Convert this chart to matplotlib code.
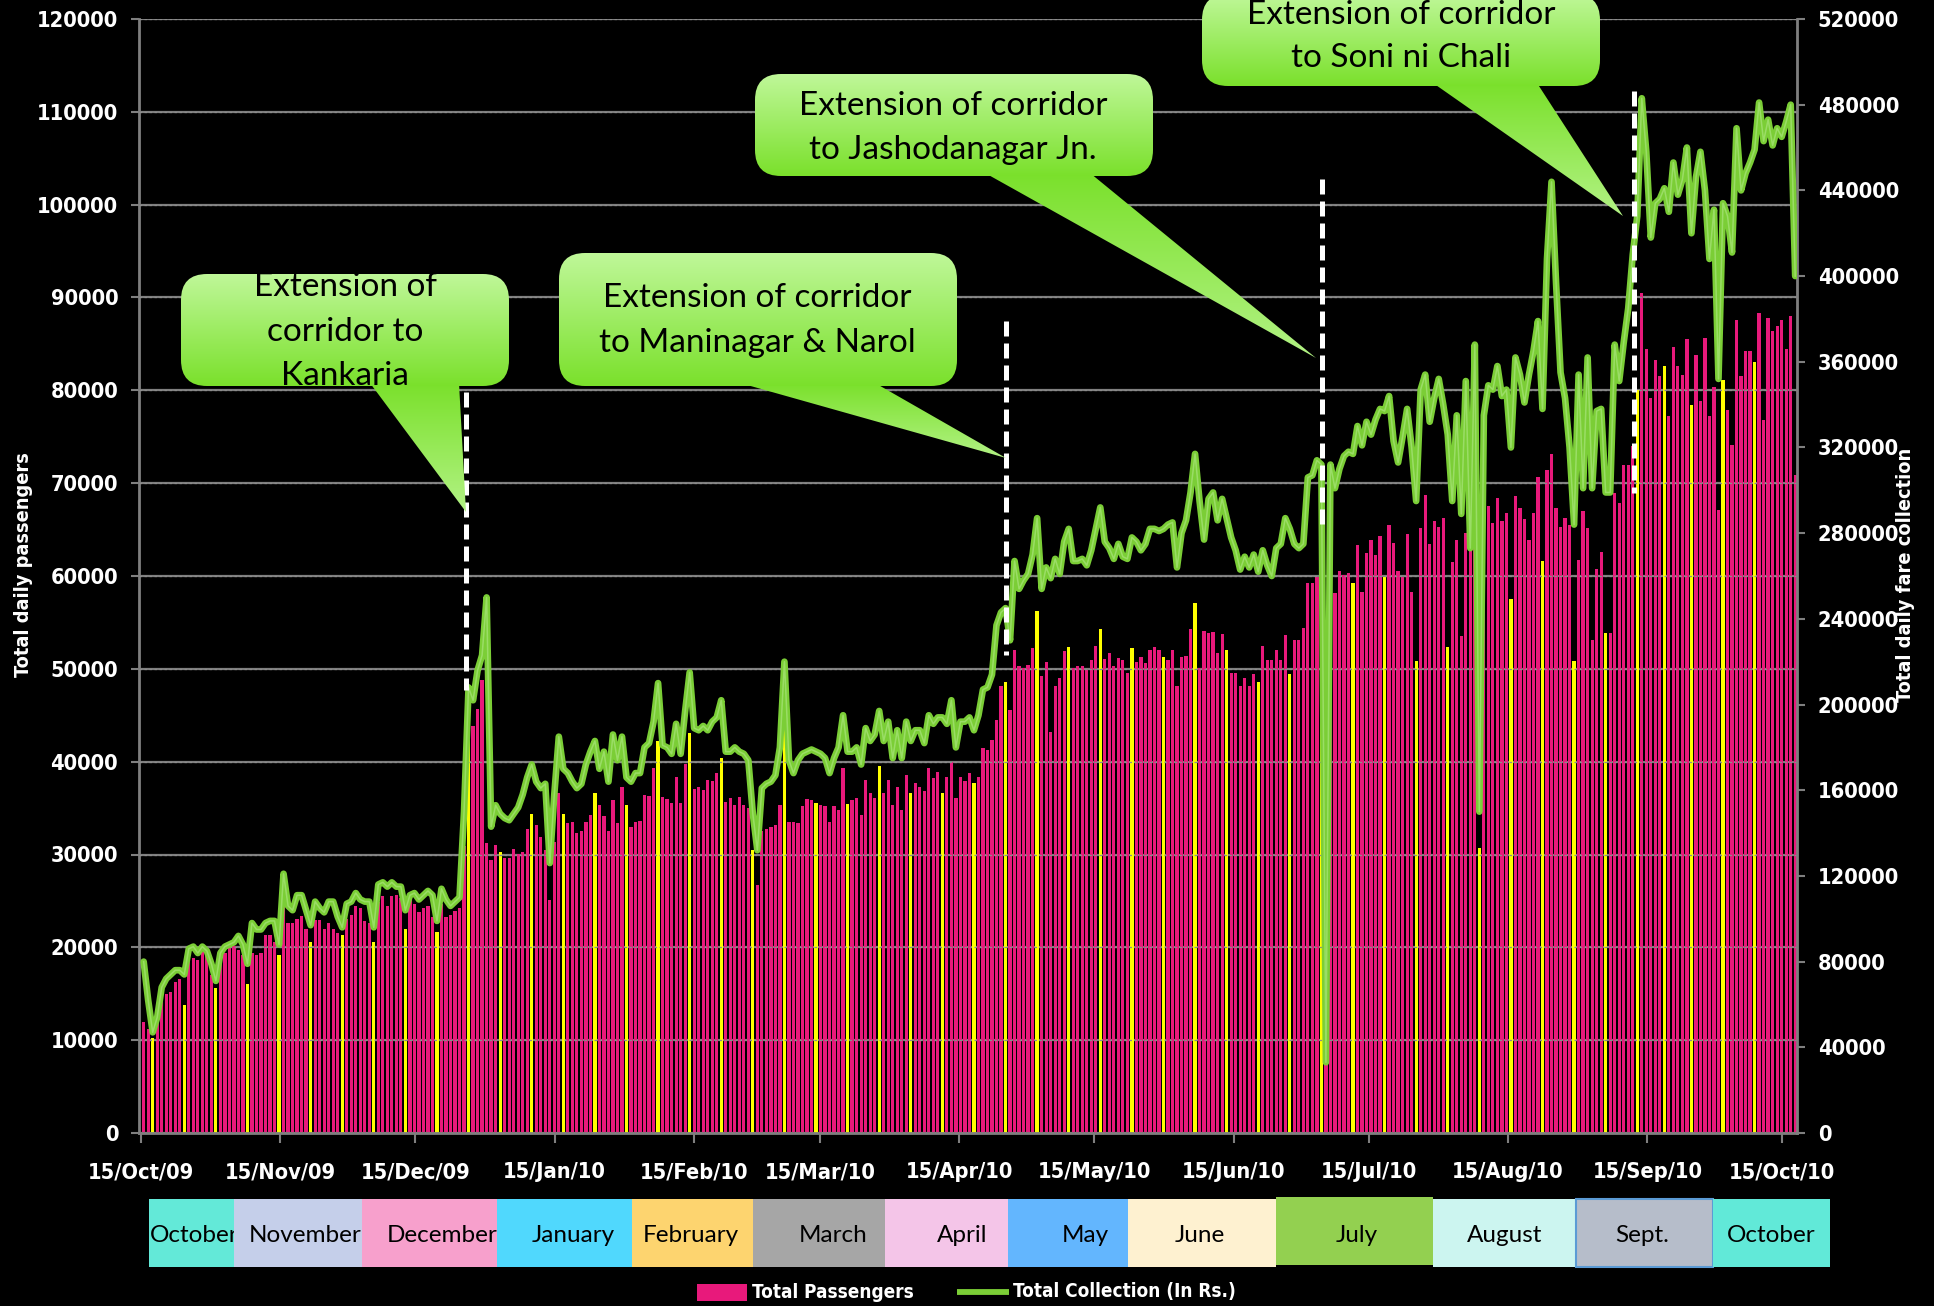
import numpy as np
import matplotlib
matplotlib.use('Agg')
import matplotlib.pyplot as plt
from matplotlib import font_manager
from matplotlib.font_manager import FontProperties
from matplotlib.patches import FancyBboxPatch, Polygon, Rectangle
from matplotlib.ticker import FuncFormatter

# daily ridership on the BRTS corridor, one value per day from 15 Oct 2009 (thousands)
passengers_k = [
    12.0, 11.2, 10.2, 13.0, 14.5, 15.0, 15.2,
    16.3, 16.6, 13.8, 19.0, 18.8, 18.6, 19.5,
    19.2, 17.0, 15.6, 18.8, 19.4, 19.9, 20.1,
    19.7, 19.2, 16.1, 19.4, 19.2, 19.4, 21.3,
    21.3, 20.6, 19.2, 24.4, 22.6, 22.6, 23.1,
    23.4, 22.0, 20.6, 22.9, 22.9, 22.0, 22.6,
    22.0, 21.5, 21.3, 23.1, 23.5, 24.5, 24.2,
    22.8, 22.6, 20.6, 24.9, 25.5, 24.4, 25.5,
    25.6, 25.3, 22.0, 25.5, 24.7, 23.8, 24.2,
    24.4, 23.3, 21.7, 24.7, 23.3, 23.5, 23.9,
    24.2, 30.9, 45.0, 43.8, 45.7, 48.8, 31.2,
    29.4, 31.0, 30.3, 29.6, 29.6, 30.6, 30.1,
    30.3, 32.7, 34.4, 33.2, 31.9, 30.5, 25.1,
    31.4, 36.6, 34.4, 33.4, 33.5, 32.3, 32.5,
    33.5, 34.3, 36.6, 35.3, 34.1, 32.5, 35.9,
    33.4, 37.3, 35.3, 33.0, 33.5, 33.6, 36.4,
    36.3, 39.3, 42.2, 36.2, 36.0, 35.6, 38.3,
    35.6, 39.8, 43.1, 37.1, 37.3, 37.0, 38.0,
    37.9, 38.8, 40.4, 35.7, 36.1, 35.3, 36.2,
    35.3, 35.0, 30.5, 26.7, 32.5, 32.7, 33.0,
    33.2, 35.3, 44.0, 33.5, 33.5, 33.4, 35.2,
    36.0, 35.9, 35.5, 35.3, 35.2, 33.5, 35.2,
    34.8, 39.3, 35.4, 35.9, 36.1, 34.3, 38.0,
    36.6, 36.1, 39.5, 36.6, 38.0, 35.3, 37.3,
    34.8, 38.6, 36.6, 37.7, 37.3, 36.8, 39.3,
    38.2, 38.9, 36.6, 38.4, 40.0, 36.1, 38.3,
    37.9, 38.8, 37.7, 38.4, 41.5, 41.3, 42.3,
    44.5, 48.1, 48.6, 45.6, 52.0, 50.3, 50.1,
    50.4, 52.2, 56.2, 49.2, 50.7, 43.2, 48.1,
    49.0, 51.9, 52.3, 50.1, 50.3, 50.3, 49.9,
    51.0, 52.5, 54.3, 51.1, 51.7, 50.3, 51.2,
    51.0, 49.6, 52.2, 50.7, 51.3, 50.6, 52.0,
    52.4, 52.0, 51.3, 51.0, 52.0, 48.1, 51.3,
    51.4, 54.3, 57.1, 50.1, 54.1, 53.9, 54.0,
    51.7, 53.8, 52.0, 49.5, 49.6, 48.2, 49.0,
    48.1, 49.4, 48.6, 52.5, 50.9, 50.9, 52.0,
    51.0, 53.6, 49.4, 53.1, 53.1, 54.4, 59.2,
    59.2, 59.9, 56.0, 8.5, 60.3, 58.2, 60.5,
    60.1, 60.3, 59.2, 63.3, 58.3, 62.5, 63.9,
    62.3, 64.3, 59.9, 65.5, 63.6, 60.5, 59.9,
    64.5, 58.3, 50.8, 65.2, 68.7, 63.4, 65.9,
    65.3, 66.2, 52.3, 61.5, 63.9, 53.5, 64.6,
    68.2, 66.6, 30.7, 65.0, 67.5, 65.7, 68.4,
    65.9, 66.8, 57.5, 68.6, 67.3, 66.1, 63.9,
    66.8, 70.7, 61.6, 71.4, 73.1, 67.3, 65.3,
    66.2, 65.5, 50.8, 61.7, 67.0, 65.2, 53.1,
    60.8, 62.6, 53.9, 53.9, 68.9, 67.9, 72.0,
    72.0, 74.0, 80.0, 90.5, 84.4, 79.2, 83.3,
    81.5, 82.6, 77.2, 84.7, 82.6, 81.7, 85.5,
    78.4, 83.8, 78.8, 85.6, 77.2, 80.4, 67.1,
    81.1, 77.9, 74.1, 87.6, 81.5, 84.2, 84.2,
    83.1, 88.3, 76.8, 87.8, 86.4, 86.9, 87.6,
    84.4, 88.0, 70.9,
]

# daily fare collection in Rs. (thousands), same days
collection_k = [
    80, 62, 47, 54, 68, 72, 74,
    76, 76, 74, 86, 87, 84, 87,
    85, 79, 71, 84, 87, 88, 89,
    92, 88, 79, 98, 95, 95, 98,
    99, 99, 88, 121, 106, 104, 111,
    111, 104, 97, 108, 105, 103, 108,
    108, 101, 96, 107, 108, 112, 109,
    108, 108, 96, 116, 117, 115, 117,
    115, 115, 104, 111, 112, 109, 111,
    113, 111, 99, 114, 109, 106, 108,
    110, 150, 208, 202, 216, 223, 250,
    143, 153, 149, 147, 146, 149, 152,
    158, 166, 172, 164, 161, 163, 126,
    158, 185, 170, 168, 164, 161, 163,
    172, 178, 183, 170, 178, 164, 186,
    174, 185, 166, 164, 168, 168, 180,
    182, 192, 210, 181, 180, 177, 191,
    177, 197, 215, 189, 188, 190, 188,
    192, 194, 202, 178, 178, 180, 178,
    177, 174, 149, 132, 161, 163, 164,
    167, 180, 220, 174, 168, 174, 177,
    178, 179, 178, 177, 175, 168, 175,
    180, 195, 178, 178, 180, 172, 189,
    183, 186, 197, 183, 192, 175, 188,
    175, 192, 183, 188, 188, 182, 195,
    191, 194, 194, 191, 202, 180, 192,
    192, 194, 188, 195, 207, 208, 214,
    237, 243, 245, 230, 267, 254, 258,
    261, 270, 287, 254, 264, 259, 268,
    261, 276, 282, 267, 267, 268, 265,
    272, 282, 292, 276, 273, 268, 275,
    269, 268, 278, 276, 272, 275, 282,
    282, 281, 282, 284, 285, 264, 280,
    286, 299, 317, 295, 277, 296, 299,
    286, 296, 287, 278, 272, 263, 269,
    264, 270, 262, 272, 265, 260, 273,
    275, 287, 282, 275, 273, 275, 306,
    307, 314, 312, 33, 312, 301, 310,
    316, 318, 317, 330, 321, 332, 326,
    333, 338, 337, 344, 323, 313, 325,
    338, 320, 295, 347, 354, 332, 343,
    352, 340, 326, 295, 335, 289, 351,
    273, 368, 150, 335, 349, 347, 358,
    344, 347, 320, 362, 354, 341, 354,
    365, 379, 338, 408, 444, 397, 355,
    343, 320, 284, 354, 301, 362, 301,
    337, 338, 299, 299, 368, 351, 369,
    385, 410, 428, 483, 458, 418, 434,
    436, 441, 430, 453, 438, 445, 460,
    420, 446, 458, 440, 408, 431, 352,
    434, 428, 411, 469, 440, 448, 453,
    459, 481, 463, 473, 461, 469, 465,
    472, 480, 400,
]

# days drawn in yellow (Sundays)
sundays = [2, 9, 16, 23, 30, 37, 44, 51, 58, 65, 72, 79, 86, 93, 100, 107,
           114, 121, 128, 135, 142, 149, 156, 163, 170, 177, 184, 191, 198,
           205, 212, 219, 226, 233, 240, 247, 254, 261, 268, 275, 282, 289,
           296, 303, 310, 317, 324, 331, 337, 343, 350, 357]

date_labels = ['15/Oct/09', '15/Nov/09', '15/Dec/09', '15/Jan/10', '15/Feb/10',
               '15/Mar/10', '15/Apr/10', '15/May/10', '15/Jun/10', '15/Jul/10',
               '15/Aug/10', '15/Sep/10', '15/Oct/10']
date_offsets = [0, 31, 61, 92, 123, 151, 182, 212, 243, 273, 304, 335, 365]

month_names = ['October', 'November', 'December', 'January', 'February', 'March',
               'April', 'May', 'June', 'July', 'August', 'Sept.', 'October']
month_colors = ['#63E9D8', '#C5CFEA', '#F7A0CC', '#50D8FD', '#FDD46F', '#A6A6A6',
                '#F4C5E8', '#63B6FE', '#FEF1D0', '#93D050', '#CCF5F0', '#B6BDCA',
                '#61E9D8']

extension_notes = [
    ['Extension of', 'corridor to', 'Kankaria'],
    ['Extension of corridor', 'to Maninagar & Narol'],
    ['Extension of corridor', 'to Jashodanagar Jn.'],
    ['Extension of corridor', 'to Soni ni Chali'],
]


def find_narrow_bold():
    for f in font_manager.fontManager.ttflist:
        narrow = ('Narrow' in f.name or 'Condensed' in f.name
                  or f.stretch in ('condensed', 'semi-condensed', 'extra-condensed'))
        bold = f.weight in ('bold', 'heavy', 'black') or (isinstance(f.weight, int) and f.weight >= 700)
        if narrow and bold and f.style == 'normal':
            return f.fname
    return None


installed = {f.name for f in font_manager.fontManager.ttflist}
narrow_file = find_narrow_bold()
if narrow_file:
    def label_font(size):
        return FontProperties(fname=narrow_file, size=size)
    SZ_TICK, SZ_XTICK, SZ_AXIS, SZ_LEG = 15.7, 15.7, 14.3, 13.6
else:
    fallback = 'Roboto' if 'Roboto' in installed else 'DejaVu Sans'

    def label_font(size):
        return FontProperties(family=fallback, weight='bold', size=size)
    SZ_TICK, SZ_XTICK, SZ_AXIS, SZ_LEG = 16.5, 16, 14, 14.5
BODY = 'Lato' if 'Lato' in installed else 'DejaVu Sans'

days = np.arange(len(passengers_k))
passengers = np.array(passengers_k) * 1000
collection = np.array(collection_k) * 1000
bar_colors = ['#FFFF00' if d in sundays else '#E8197B' for d in days]

W, H = 1934, 1306
L, R, T, B = 139, 1797, 19, 1133
GRAY = '#7f7f7f'

fig = plt.figure(figsize=(W / 100, H / 100), dpi=100, facecolor='black')
ax = fig.add_axes([L / W, 1 - B / H, (R - L) / W, (B - T) / H])
ax.set_facecolor('black')

ax.bar(days, passengers, width=0.72, color=bar_colors, linewidth=0, zorder=2)
ax.set_xlim(-1.035, 366.4)
ax.set_ylim(0, 120000)
ax.set_yticks(np.arange(0, 120001, 10000))
ax.yaxis.set_major_formatter(FuncFormatter(lambda v, _: f'{int(v)}'))
ax.grid(axis='y', color=GRAY, linewidth=1.6, zorder=0)
ax.set_axisbelow(True)
for y in np.arange(10000, 120001, 10000):
    ax.axhline(y, color='#8c8c8c', lw=0.9, ls=(0, (2, 2)), zorder=3)

# calendar ticks sit on the 15th of each month
ax.set_xticks(np.array(date_offsets) * 0.9965 - 0.6)
ax.set_xticklabels(date_labels)

ax2 = ax.twinx()
ax2.set_ylim(0, 520000)
ax2.set_yticks(np.arange(0, 520001, 40000))
ax2.yaxis.set_major_formatter(FuncFormatter(lambda v, _: f'{int(v)}'))
ax2.plot(days, collection, color='#7BCE36', lw=4.8, solid_joinstyle='round',
         solid_capstyle='round', zorder=3)
ax2.plot(days, collection, color='#B5EA8E', lw=1.1, alpha=0.55, zorder=4)

for a in (ax, ax2):
    for s in a.spines.values():
        s.set_color(GRAY)
        s.set_linewidth(2)
    a.spines['top'].set_visible(False)
ax.spines['right'].set_visible(False)
ax2.spines['left'].set_visible(False)
ax2.spines['bottom'].set_visible(False)

ax.tick_params(axis='y', direction='out', length=6, width=1.5, color=GRAY,
               labelcolor='white', pad=9)
ax.tick_params(axis='x', direction='out', length=7, width=1.5, color=GRAY,
               labelcolor='white', pad=14)
ax2.tick_params(axis='y', direction='out', length=6, width=1.5, color=GRAY,
                labelcolor='white', pad=9)
for lab in ax.get_yticklabels() + ax2.get_yticklabels():
    lab.set_fontproperties(label_font(SZ_TICK))
for lab in ax.get_xticklabels():
    lab.set_fontproperties(label_font(SZ_XTICK))

ax.set_ylabel('Total daily passengers', color='white', fontproperties=label_font(SZ_AXIS))
ax.yaxis.set_label_coords((33 - L) / (R - L), (B - 565) / (B - T))
ax2.set_ylabel('Total daily fare collection', color='white', fontproperties=label_font(SZ_AXIS))
ax2.yaxis.set_label_coords((1896 - L) / (R - L), (B - 575) / (B - T))

# overlay in pixel units for the notes, month strip and legend
ov = fig.add_axes([0, 0, 1, 1], zorder=5)
ov.axis('off')

for x, y0, y1 in [(466, 392, 690), (1006, 321, 655), (1322, 179, 525), (1634, 91, 493)]:
    ov.plot([x, x], [y0, y1], color='white', lw=3.6, dashes=(3, 1.4),
            dash_capstyle='butt', zorder=2)


def gradient_fill(patch, top_rgb, bot_rgb, x_l, x_r, y_top, y_bot, z):
    patch.set_facecolor('none')
    patch.set_edgecolor('none')
    ov.add_patch(patch)
    g = np.linspace(0, 1, 256)[:, None, None]
    img = (1 - g) * np.array(top_rgb)[None, None, :] + g * np.array(bot_rgb)[None, None, :]
    im = ov.imshow(img, extent=(x_l, x_r, y_bot, y_top), origin='upper',
                   aspect='auto', interpolation='bilinear', zorder=z)
    im.set_clip_path(patch)


light = (0.75, 0.97, 0.60)
deep = (0.48, 0.88, 0.17)
tip_col = (0.70, 0.95, 0.52)

note_boxes = [(181, 274, 509, 386), (559, 253, 957, 386),
              (755, 74, 1153, 176), (1202, -6, 1600, 86)]
note_tails = [[(370, 383), (459, 383), (466, 512)],
              [(740, 383), (875, 383), (1006, 458)],
              [(985, 173), (1090, 173), (1316, 358)],
              [(1433, 83), (1537, 83), (1623, 216)]]
note_centers = [(345, [287, 332, 376]), (757, [298, 343]),
                (953, [106, 150]), (1401, [15, 58])]

for (x0, y0, x1, y1), tail, (cx, ys), lines in zip(note_boxes, note_tails,
                                                   note_centers, extension_notes):
    tail_poly = Polygon(tail, closed=True)
    ty = [p[1] for p in tail]
    tx = [p[0] for p in tail]
    gradient_fill(tail_poly, deep, tip_col, min(tx), max(tx), min(ty), max(ty), 3)
    box = FancyBboxPatch((x0, y0), x1 - x0, y1 - y0,
                         boxstyle='round,pad=0,rounding_size=26')
    gradient_fill(box, light, deep, x0, x1, y0, y1, 4)
    for line, y in zip(lines, ys):
        ov.text(cx, y, line, ha='center', va='center', fontsize=24,
                family=BODY, color='black', zorder=6)

# month strip under the axis
month_edges = [149, 234, 362, 497, 632, 753, 885, 1008, 1128, 1276, 1433, 1576, 1713, 1830]
month_text_x = [150, 305, 442, 573, 691, 833, 962, 1085, 1200, 1357, 1505, 1642, 1771]
for i, (name, col) in enumerate(zip(month_names, month_colors)):
    top, bot = (1197, 1265) if name == 'July' else (1199, 1267)
    edge = '#5B9BD5' if name == 'Sept.' else 'none'
    ov.add_patch(Rectangle((month_edges[i], top), month_edges[i + 1] - month_edges[i],
                           bot - top, facecolor=col, edgecolor=edge, lw=1.5,
                           zorder=10 + 2 * i))
    ov.text(month_text_x[i], 1235, name, ha='left' if i == 0 else 'center',
            va='center', fontsize=17.5, family=BODY, color='black',
            zorder=11 + 2 * i)

# legend
ov.add_patch(Rectangle((697, 1284), 50, 17, facecolor='#E8197B', edgecolor='none'))
ov.text(752, 1292, 'Total Passengers', ha='left', va='center', color='white',
        fontproperties=label_font(SZ_LEG))
ov.plot([957, 1009], [1292, 1292], color='#7BCE36', lw=4.2, solid_capstyle='butt')
ov.text(1013, 1292, 'Total Collection (In Rs.)', ha='left', va='center',
        color='white', fontproperties=label_font(SZ_LEG))

ov.set_xlim(0, W)
ov.set_ylim(H, 0)

fig.savefig('out.png', dpi=100, facecolor='black')
